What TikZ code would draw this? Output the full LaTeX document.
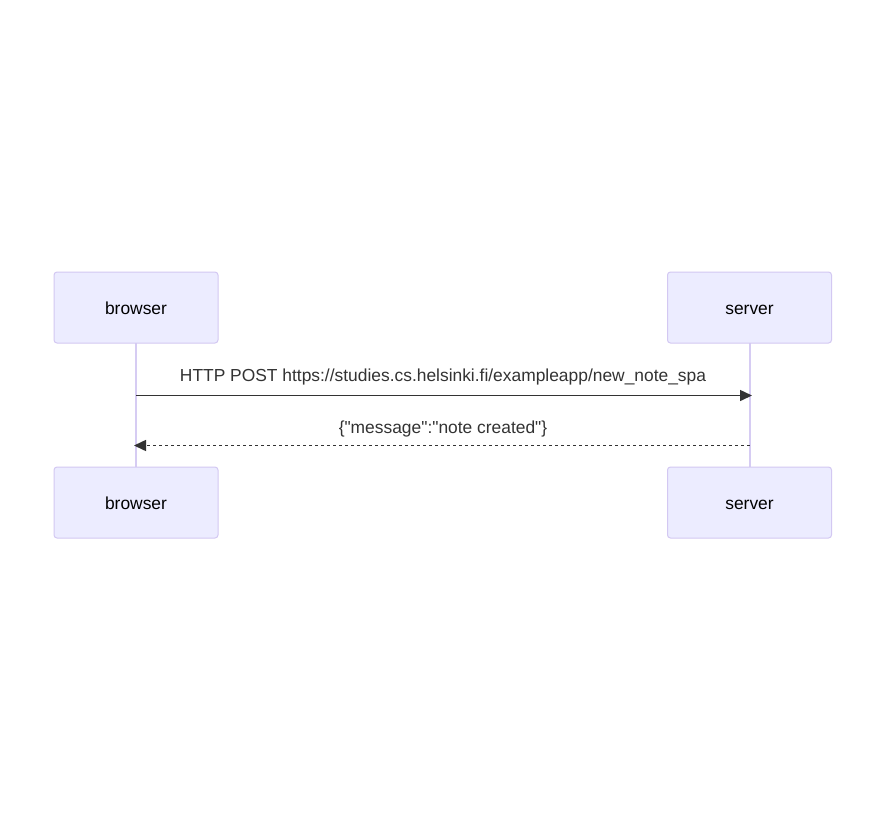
\documentclass[tikz,border=0pt]{standalone}
\usepackage{fontspec}
\defaultfontfeatures{Ligatures=TeXOff}
\setmainfont{Liberation Sans}[Ligatures=TeXOff]
\usetikzlibrary{arrows.meta}
\definecolor{actfill}{HTML}{ECECFF}
\definecolor{actborder}{HTML}{D3C8F2}
\definecolor{lifeline}{HTML}{D6CCF3}
\definecolor{msg}{HTML}{333333}
\tikzset{
  actor/.style={draw=actborder, fill=actfill, line width=1pt, rounded corners=3pt,
    minimum width=164pt, minimum height=71pt, inner sep=0pt},
  actorlabel/.style={font=\fontsize{17.4}{20}\selectfont, text=black, inner sep=0pt, anchor=base},
  life/.style={draw=lifeline, line width=2pt},
  msgline/.style={draw=msg, line width=1.5pt, -{Triangle[length=12pt,width=11pt]}},
  msglabel/.style={font=\fontsize{17.4}{20}\selectfont, text=msg, inner sep=0pt, anchor=base}
}
\begin{document}
\begin{tikzpicture}[x=1pt,y=-1pt]
\useasboundingbox (0,0) rectangle (886,812);
\fill[white] (0,0) rectangle (886,812);
% lifelines
\coordinate (bt) at (136,343);
\coordinate (bb) at (136,467);
\coordinate (st) at (749.5,343);
\coordinate (sb) at (749.5,467);
\draw[life] (bt) -- (bb);
\draw[life] (st) -- (sb);
% actors
\node[actor] (b1) at (136,307.5) {};
\node[actor] (s1) at (749.5,307.5) {};
\node[actor] (b2) at (136,502.5) {};
\node[actor] (s2) at (749.5,502.5) {};
\node[actorlabel] (b1t) at (136,314) {browser};
\node[actorlabel] (s1t) at (749.5,314) {server};
\node[actorlabel] (b2t) at (136,509) {browser};
\node[actorlabel] (s2t) at (749.5,509) {server};
% messages
\coordinate (m1s) at (136,395.5);
\coordinate (m1e) at (752,395.5);
\coordinate (m2s) at (749.5,445.5);
\coordinate (m2e) at (134,445.5);
\draw[msgline] (m1s) -- (m1e);
\draw[msgline, dash pattern=on 3pt off 3pt] (m2s) -- (m2e);
\node[msglabel] (l1) at (443,381.5) {HTTP POST https://studies.cs.helsinki.fi/exampleapp/new\_note\_spa};
\node[msglabel] (l2) at (443,433.5) {\{"message":"note created"\}};
\end{tikzpicture}
\end{document}
